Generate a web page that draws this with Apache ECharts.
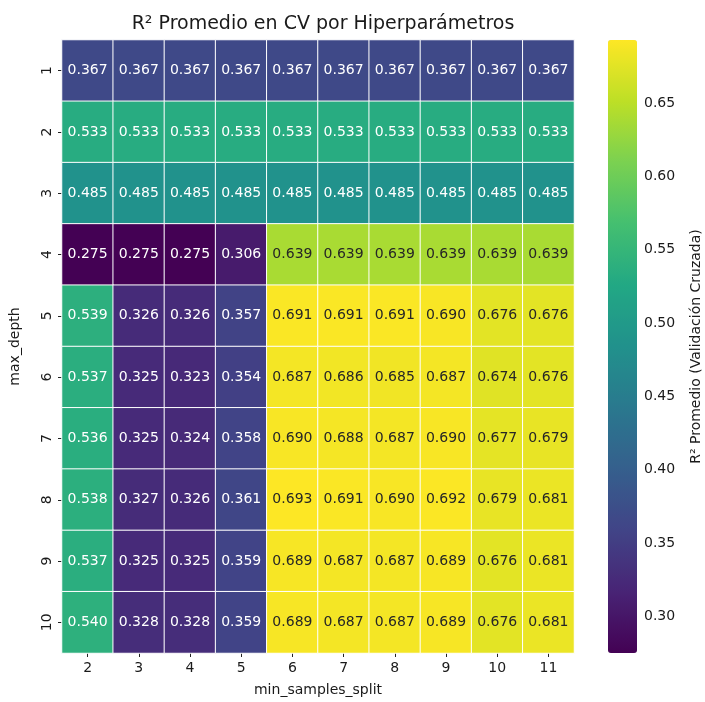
<!DOCTYPE html>
<html>
<head>
<meta charset="utf-8">
<script src="https://cdn.jsdelivr.net/npm/echarts@6/dist/echarts.min.js"></script>
<style>html,body{margin:0;padding:0;background:#fff;}#c{width:705px;height:702px;}</style>
</head>
<body>
<div id="c"></div>
<script>
const xCats = ['2','3','4','5','6','7','8','9','10','11'];
const yCats = ['1','2','3','4','5','6','7','8','9','10'];
const values = [
  [0.367,0.367,0.367,0.367,0.367,0.367,0.367,0.367,0.367,0.367],
  [0.533,0.533,0.533,0.533,0.533,0.533,0.533,0.533,0.533,0.533],
  [0.485,0.485,0.485,0.485,0.485,0.485,0.485,0.485,0.485,0.485],
  [0.275,0.275,0.275,0.306,0.639,0.639,0.639,0.639,0.639,0.639],
  [0.539,0.326,0.326,0.357,0.691,0.691,0.691,0.690,0.676,0.676],
  [0.537,0.325,0.323,0.354,0.687,0.686,0.685,0.687,0.674,0.676],
  [0.536,0.325,0.324,0.358,0.690,0.688,0.687,0.690,0.677,0.679],
  [0.538,0.327,0.326,0.361,0.693,0.691,0.690,0.692,0.679,0.681],
  [0.537,0.325,0.325,0.359,0.689,0.687,0.687,0.689,0.676,0.681],
  [0.540,0.328,0.328,0.359,0.689,0.687,0.687,0.689,0.676,0.681]
];
const cbTicks = [0.30,0.35,0.40,0.45,0.50,0.55,0.60,0.65];
const vMin = 0.275, vMax = 0.693;
const viridis = ['#440154','#482475','#414487','#355f8d','#2a788e','#21918c','#22a884','#44bf70','#7ad151','#bddf26','#fde725'];

const data = [];
values.forEach((row, yi) => row.forEach((v, xi) => {
  data.push({value: [xi, yi, v], label: {color: v >= 0.6 ? '#262626' : '#ffffff'}});
}));

const font = 'DejaVu Sans';
const chart = echarts.init(document.getElementById('c'));
chart.setOption({
  backgroundColor: '#ffffff',
  animation: false,
  title: {
    text: 'R² Promedio en CV por Hiperparámetros',
    left: 318, top: 10, textAlign: 'center',
    textStyle: {fontFamily: font, fontSize: 19, fontWeight: 'normal', color: '#1a1a1a'}
  },
  grid: [
    {left: 62, top: 40, width: 512, height: 613},
    {left: 608, top: 40, width: 29, height: 613}
  ],
  xAxis: [
    {type: 'category', gridIndex: 0, data: xCats, position: 'bottom',
     name: 'min_samples_split', nameLocation: 'middle', nameGap: 30,
     nameTextStyle: {fontFamily: font, fontSize: 14, color: '#1a1a1a'},
     axisLine: {show: false}, splitLine: {show: false},
     axisTick: {show: true, alignWithLabel: true, length: 4, lineStyle: {color: '#222', width: 1}},
     axisLabel: {fontFamily: font, fontSize: 14, color: '#1a1a1a', margin: 8}},
    {type: 'value', gridIndex: 1, show: false, min: 0, max: 1}
  ],
  yAxis: [
    {type: 'category', gridIndex: 0, data: yCats, inverse: true,
     name: 'max_depth', nameLocation: 'middle', nameGap: 40, nameRotate: 90,
     nameTextStyle: {fontFamily: font, fontSize: 14, color: '#1a1a1a'},
     axisLine: {show: false}, splitLine: {show: false},
     axisTick: {show: true, alignWithLabel: true, length: 4, lineStyle: {color: '#222', width: 1}},
     axisLabel: {fontFamily: font, fontSize: 14, color: '#1a1a1a', rotate: 90, margin: 8}},
    {type: 'value', gridIndex: 1, position: 'right', min: vMin, max: vMax,
     name: 'R² Promedio (Validación Cruzada)', nameLocation: 'middle', nameGap: 52, nameRotate: 90,
     nameTextStyle: {fontFamily: font, fontSize: 14, color: '#1a1a1a'},
     axisLine: {show: false}, splitLine: {show: false},
     axisTick: {show: true, length: 4, customValues: cbTicks, lineStyle: {color: '#222', width: 1}},
     axisLabel: {fontFamily: font, fontSize: 14, color: '#1a1a1a', margin: 7, customValues: cbTicks,
       formatter: v => v.toFixed(2)}}
  ],
  visualMap: {
    type: 'continuous', min: vMin, max: vMax, seriesIndex: 0,
    left: 608, top: 40, itemWidth: 29, itemHeight: 613, padding: 0,
    calculable: false, text: null, showLabel: false, hoverLink: false,
    inRange: {color: viridis}
  },
  series: [{
    type: 'heatmap', xAxisIndex: 0, yAxisIndex: 0, data: data,
    label: {show: true, fontFamily: font, fontSize: 14, formatter: p => p.value[2].toFixed(3)},
    itemStyle: {borderColor: '#ffffff', borderWidth: 1},
    emphasis: {disabled: true}
  }]
});
</script>
</body>
</html>
